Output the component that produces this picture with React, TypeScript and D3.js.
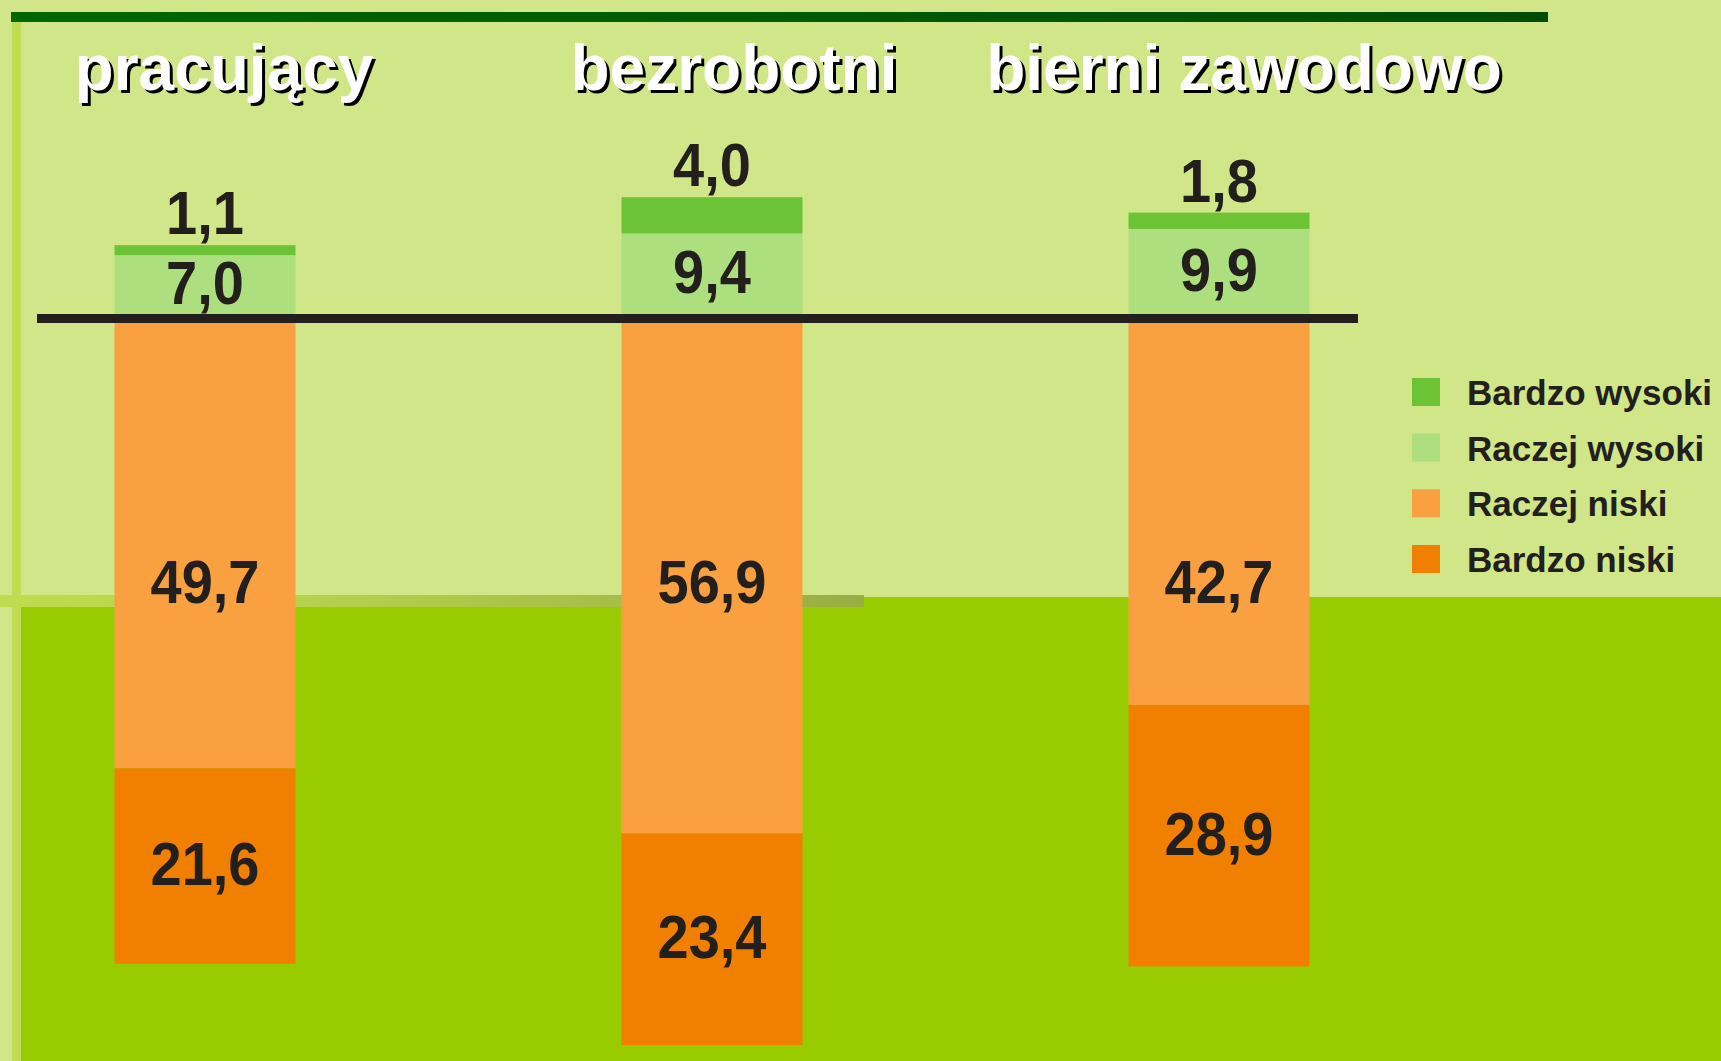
import * as d3 from "d3";

// categories and series (percent)
const categories = ["pracujący", "bezrobotni", "bierni zawodowo"];
const seriesNames = ["Bardzo wysoki", "Raczej wysoki", "Raczej niski", "Bardzo niski"];
const bardzoWysoki = [1.1, 4.0, 1.8];
const raczejWysoki = [7.0, 9.4, 9.9];
const raczejNiski = [49.7, 56.9, 42.7];
const bardzoNiski = [21.6, 23.4, 28.9];

const colors: Record<string, string> = {
  "Bardzo wysoki": "#6bc335",
  "Raczej wysoki": "#addf7f",
  "Raczej niski": "#f9a040",
  "Bardzo niski": "#f28000",
};

const W = 1721;
const H = 1061;
const FONT = "'Liberation Sans', Arial, Helvetica, sans-serif";
const INK = "#231f1d";
const fmt = (v: number) => v.toFixed(1).replace(".", ",");

export default function App() {
  // stacked rows, negatives go below zero
  const rows = categories.map((c, i) => ({
    cat: c,
    "Raczej wysoki": raczejWysoki[i],
    "Bardzo wysoki": bardzoWysoki[i],
    "Raczej niski": -raczejNiski[i],
    "Bardzo niski": -bardzoNiski[i],
  }));
  const keys = ["Raczej wysoki", "Bardzo wysoki", "Raczej niski", "Bardzo niski"];
  const stacked = d3
    .stack<any>()
    .keys(keys)
    .offset(d3.stackOffsetDiverging)(rows);

  const x = d3.scalePoint<string>().domain(categories).range([205, 1219]);
  const xTitle = d3.scalePoint<string>().domain(categories).range([224, 1244]);
  const barW = 181;
  const y = d3.scaleLinear().domain([-80, 30]).range([1042.5, 47]);
  const zero = y(0);

  const labelLevelNiski = y(-29) + 22;

  const legendY = d3.scalePoint<string>().domain(seriesNames).range([392, 559]);

  return (
    <svg
      width={W}
      height={H}
      style={{ position: "absolute", left: 0, top: 0, display: "block" }}
      fontFamily={FONT}
    >
      <defs>
        <linearGradient id="band" x1="0" x2="1" y1="0" y2="0">
          <stop offset="0" stopColor="#bfdc4f" />
          <stop offset="0.3" stopColor="#b8d54c" />
          <stop offset="1" stopColor="#9aae42" />
        </linearGradient>
        <linearGradient id="topbar" x1="0" x2="1" y1="0" y2="0">
          <stop offset="0" stopColor="#006600" />
          <stop offset="1" stopColor="#004d00" />
        </linearGradient>
      </defs>

      {/* background */}
      <rect x={0} y={0} width={W} height={H} fill="#d0e688" />
      <rect x={0} y={597} width={W} height={H - 597} fill="#99cc00" />
      <rect x={0} y={597} width={21} height={H - 597} fill="#d0e688" />
      <rect x={0} y={595} width={864} height={12} fill="url(#band)" />
      <rect x={12} y={12} width={9} height={H - 12} fill="#c0dc52" />
      <rect x={11} y={12} width={1537} height={10} fill="url(#topbar)" />

      {/* bars */}
      {stacked.map((s) => (
        <g key={s.key} fill={colors[s.key]}>
          {s.map((d, i) => (
            <rect
              key={i}
              x={(x(categories[i]) as number) - barW / 2}
              y={y(d[1])}
              width={barW}
              height={y(d[0]) - y(d[1])}
            />
          ))}
        </g>
      ))}

      {/* zero line */}
      <line x1={37} x2={1358} y1={zero} y2={zero} stroke="#231f1d" strokeWidth={9} />

      {/* value labels */}
      {stacked.map((s) =>
        s.map((d, i) => {
          const cx = x(categories[i]) as number;
          const v = Math.abs(d[1] - d[0]);
          const top = Math.min(y(d[0]), y(d[1]));
          const bot = Math.max(y(d[0]), y(d[1]));
          const mid = (top + bot) / 2;
          let by = mid + 18;
          if (s.key === "Bardzo wysoki") by = top - 11;
          if (s.key === "Raczej wysoki") by = mid + 17;
          if (s.key === "Raczej niski") by = labelLevelNiski;
          if (s.key === "Bardzo niski") by = mid + 19;
          return (
            <text
              key={s.key + i}
              transform={`translate(${cx},${by}) scale(1,1.1)`}
              textAnchor="middle"
              fontSize={56}
              fontWeight="bold"
              fill={INK}
            >
              {fmt(v)}
            </text>
          );
        })
      )}

      {/* category titles */}
      {categories.map((c) => (
        <g key={c} fontSize={64} fontWeight="bold" textAnchor="middle">
          <text x={(xTitle(c) as number) + 3} y={93} fill="#000">
            {c}
          </text>
          <text x={xTitle(c) as number} y={90} fill="#ffffff">
            {c}
          </text>
        </g>
      ))}

      {/* legend */}
      {seriesNames.map((n) => {
        const ly = legendY(n) as number;
        return (
          <g key={n}>
            <rect x={1412} y={ly - 14} width={28} height={28} fill={colors[n]} />
            <text x={1467} y={ly + 13} fontSize={35} fontWeight="bold" fill={INK}>
              {n}
            </text>
          </g>
        );
      })}
    </svg>
  );
}
